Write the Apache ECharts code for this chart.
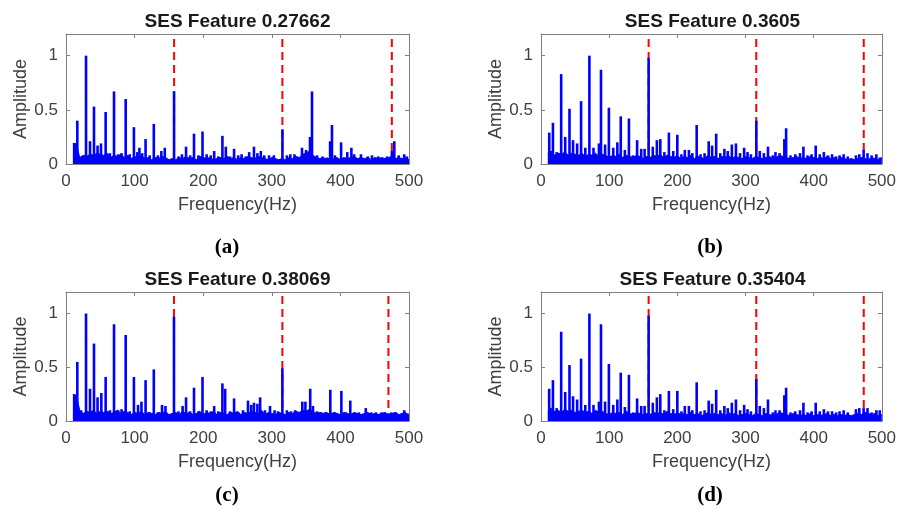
<!DOCTYPE html>
<html>
<head>
<meta charset="utf-8">
<script src="https://cdn.jsdelivr.net/npm/echarts@6/dist/echarts.min.js"></script>
<style>
  html, body { margin: 0; padding: 0; background: #fff; }
  #chart { width: 899px; height: 517px; }
</style>
</head>
<body>
<div id="chart"></div>
<script>
/* Four SES spectra (a)-(d) with fault-frequency harmonics marked in red. */
const TITLES = ["SES Feature 0.27662", "SES Feature 0.3605", "SES Feature 0.38069", "SES Feature 0.35404"];
const CAPTIONS = ["(a)", "(b)", "(c)", "(d)"];
const X_TICKS = [0, 100, 200, 300, 400, 500];

// fault harmonics (Hz) per panel
const faultA = [157.6, 315.4, 475];
const faultB = [157.9, 315.8, 473.5];
const faultC = [157.4, 315.4, 470];
const faultD = [157.9, 315.8, 473.5];

// noise floor, one value every 5 Hz starting at 10 Hz
const FLOOR_START = 10, FLOOR_STEP = 5;
const floorA = [
  0.19, 0.19, 0.06, 0.08, 0.07, 0.09, 0.08, 0.10, 0.09, 0.08,
  0.10, 0.06, 0.08, 0.07, 0.09, 0.06, 0.08, 0.05, 0.07, 0.06,
  0.08, 0.05, 0.06, 0.04, 0.06, 0.05, 0.07, 0.06, 0.04, 0.05,
  0.04, 0.06, 0.05, 0.07, 0.05, 0.06, 0.04, 0.07, 0.06, 0.05,
  0.06, 0.04, 0.05, 0.06, 0.05, 0.07, 0.05, 0.06, 0.04, 0.06,
  0.05, 0.07, 0.06, 0.05, 0.07, 0.06, 0.05, 0.04, 0.06, 0.05,
  0.04, 0.05, 0.04, 0.06, 0.05, 0.07, 0.06, 0.09, 0.10, 0.12,
  0.08, 0.06, 0.05, 0.06, 0.04, 0.06, 0.05, 0.06, 0.04, 0.06,
  0.05, 0.06, 0.07, 0.05, 0.06, 0.05, 0.06, 0.04, 0.06, 0.05,
  0.06, 0.05, 0.06, 0.07, 0.05, 0.06, 0.05, 0.06, 0.04
];
const floorB = [
  0.10, 0.12, 0.08, 0.10, 0.09, 0.11, 0.08, 0.10, 0.09, 0.08,
  0.10, 0.07, 0.09, 0.08, 0.10, 0.07, 0.09, 0.08, 0.06, 0.08,
  0.07, 0.09, 0.06, 0.08, 0.07, 0.06, 0.08, 0.07, 0.05, 0.07,
  0.06, 0.08, 0.07, 0.09, 0.06, 0.08, 0.07, 0.06, 0.08, 0.05,
  0.07, 0.06, 0.08, 0.05, 0.07, 0.06, 0.05, 0.08, 0.06, 0.07,
  0.05, 0.07, 0.06, 0.08, 0.05, 0.07, 0.06, 0.05, 0.07, 0.06,
  0.05, 0.07, 0.06, 0.05, 0.06, 0.07, 0.05, 0.06, 0.08, 0.07,
  0.06, 0.05, 0.06, 0.07, 0.05, 0.06, 0.05, 0.07, 0.06, 0.05,
  0.06, 0.05, 0.07, 0.05, 0.06, 0.04, 0.06, 0.05, 0.04, 0.05,
  0.04, 0.05, 0.06, 0.05, 0.04, 0.06, 0.05, 0.04, 0.06
];
const floorC = [
  0.25, 0.24, 0.10, 0.07, 0.09, 0.08, 0.10, 0.07, 0.09, 0.08,
  0.09, 0.07, 0.08, 0.10, 0.07, 0.09, 0.08, 0.06, 0.08, 0.07,
  0.09, 0.06, 0.08, 0.07, 0.06, 0.08, 0.07, 0.09, 0.06, 0.07,
  0.08, 0.06, 0.09, 0.07, 0.08, 0.06, 0.07, 0.09, 0.06, 0.08,
  0.07, 0.09, 0.06, 0.08, 0.07, 0.06, 0.08, 0.07, 0.09, 0.06,
  0.08, 0.07, 0.09, 0.08, 0.07, 0.10, 0.06, 0.08, 0.07, 0.06,
  0.08, 0.07, 0.06, 0.08, 0.07, 0.09, 0.08, 0.10, 0.09, 0.11,
  0.09, 0.07, 0.08, 0.07, 0.08, 0.06, 0.08, 0.07, 0.06, 0.08,
  0.07, 0.06, 0.08, 0.07, 0.06, 0.07, 0.08, 0.06, 0.07, 0.06,
  0.07, 0.08, 0.06, 0.07, 0.08, 0.06, 0.07, 0.08, 0.05
];
const floorD = [
  0.09, 0.12, 0.09, 0.10, 0.08, 0.11, 0.09, 0.10, 0.08, 0.09,
  0.10, 0.08, 0.09, 0.07, 0.10, 0.08, 0.09, 0.07, 0.06, 0.08,
  0.07, 0.08, 0.06, 0.09, 0.07, 0.06, 0.08, 0.07, 0.06, 0.07,
  0.06, 0.08, 0.07, 0.08, 0.06, 0.09, 0.07, 0.06, 0.08, 0.06,
  0.07, 0.06, 0.08, 0.06, 0.07, 0.05, 0.06, 0.08, 0.06, 0.07,
  0.06, 0.07, 0.05, 0.08, 0.06, 0.07, 0.05, 0.06, 0.07, 0.06,
  0.05, 0.07, 0.06, 0.05, 0.07, 0.06, 0.05, 0.06, 0.08, 0.07,
  0.06, 0.05, 0.07, 0.06, 0.05, 0.06, 0.05, 0.07, 0.05, 0.06,
  0.05, 0.06, 0.07, 0.05, 0.06, 0.05, 0.06, 0.05, 0.06, 0.05,
  0.06, 0.07, 0.06, 0.08, 0.07, 0.06, 0.07, 0.05, 0.06
];

// spectral lines [Hz, amplitude]
const peaksA = [
  [16.5, 0.40], [29.2, 1.0], [35, 0.21], [40.8, 0.53], [46, 0.17], [51, 0.19], [57.8, 0.48], [64, 0.10],
  [70, 0.67], [76, 0.09], [81, 0.10], [87, 0.60], [93, 0.09], [99, 0.34], [104, 0.11], [107, 0.15],
  [111, 0.10], [116, 0.23], [122, 0.08], [128, 0.37], [134, 0.08], [139, 0.12], [144, 0.15], [157.5, 0.67],
  [164, 0.07], [169, 0.09], [175, 0.16], [181, 0.08], [186.6, 0.28], [193, 0.08], [199, 0.30], [205, 0.09],
  [211, 0.08], [216, 0.12], [222, 0.07], [228, 0.26], [233, 0.16], [239, 0.07], [245, 0.14], [251, 0.08],
  [256, 0.09], [262, 0.07], [267, 0.11], [274, 0.16], [279, 0.10], [284, 0.12], [289, 0.08], [296, 0.08],
  [303, 0.08], [315.5, 0.32], [322, 0.08], [327, 0.09], [333, 0.09], [344, 0.15], [350, 0.13], [355.7, 0.25],
  [358.6, 0.67], [366, 0.08], [374, 0.07], [380, 0.06], [385, 0.21], [387.7, 0.36], [392, 0.08], [401, 0.20],
  [410, 0.11], [416, 0.15], [420, 0.09], [430, 0.09], [440, 0.07], [446, 0.08], [455, 0.07], [468, 0.07],
  [475, 0.12], [478.6, 0.21], [485, 0.08], [493, 0.09], [497, 0.07]
];
const peaksB = [
  [12.1, 0.29], [17.5, 0.38], [23, 0.11], [29.6, 0.83], [35.5, 0.25], [41.8, 0.51], [47, 0.22], [53, 0.19],
  [58.8, 0.58], [65, 0.15], [71, 1.0], [77, 0.15], [85, 0.19], [88, 0.87], [94, 0.18], [99.6, 0.52],
  [106, 0.15], [112, 0.20], [117, 0.44], [123, 0.13], [129, 0.42], [135, 0.08], [141, 0.22], [147, 0.14],
  [152, 0.14], [157.9, 0.98], [164, 0.16], [170, 0.22], [175, 0.23], [181, 0.11], [187.6, 0.29], [194, 0.12],
  [200, 0.27], [206, 0.09], [211, 0.13], [217, 0.13], [222, 0.10], [228.4, 0.36], [234, 0.09], [240, 0.10],
  [246, 0.21], [251, 0.17], [257, 0.28], [263, 0.10], [269, 0.14], [274, 0.12], [280, 0.18], [286, 0.19],
  [292, 0.10], [298, 0.15], [303, 0.11], [308, 0.09], [315.9, 0.40], [321, 0.12], [327, 0.10], [333, 0.16],
  [340, 0.08], [344, 0.11], [350, 0.10], [357, 0.23], [359.6, 0.33], [366, 0.08], [373, 0.09], [380, 0.10],
  [385, 0.16], [391, 0.08], [397, 0.09], [403, 0.17], [409, 0.09], [415, 0.11], [421, 0.08], [427, 0.09],
  [433, 0.07], [438, 0.08], [444, 0.09], [450, 0.07], [462, 0.08], [467, 0.09], [473.3, 0.13], [479, 0.10],
  [485, 0.08], [492, 0.09], [497, 0.06]
];
const peaksC = [
  [16.5, 0.55], [22, 0.10], [29.2, 1.0], [35, 0.30], [40.8, 0.72], [46, 0.22], [51.5, 0.26], [57.8, 0.41],
  [64, 0.10], [70, 0.90], [76, 0.10], [81, 0.11], [87, 0.80], [93, 0.09], [99, 0.41], [105, 0.15],
  [110, 0.18], [116, 0.38], [122, 0.08], [128, 0.48], [134, 0.08], [140, 0.15], [145, 0.14], [157.4, 0.97],
  [164, 0.09], [170, 0.14], [175, 0.22], [181, 0.09], [186.6, 0.31], [193, 0.09], [199, 0.41], [205, 0.10],
  [211, 0.09], [216, 0.14], [222, 0.09], [228, 0.35], [232, 0.30], [239, 0.09], [245, 0.21], [251, 0.08],
  [258, 0.10], [265.3, 0.19], [270, 0.15], [274, 0.17], [279, 0.16], [283, 0.22], [290, 0.10], [297.4, 0.14],
  [304, 0.10], [309, 0.09], [315.4, 0.49], [322, 0.10], [328, 0.09], [334, 0.10], [344.5, 0.18], [349, 0.18],
  [356, 0.30], [360, 0.14], [366, 0.09], [372, 0.08], [378, 0.08], [385.3, 0.29], [392, 0.08], [401.4, 0.28],
  [408, 0.08], [414.4, 0.19], [420, 0.07], [427, 0.08], [437, 0.12], [445, 0.08], [452, 0.08], [460, 0.08],
  [466, 0.07], [474, 0.08], [481, 0.08], [490, 0.07], [493, 0.10], [498, 0.07]
];
const peaksD = [
  [12, 0.30], [17.5, 0.38], [23, 0.12], [29.6, 0.83], [35.5, 0.27], [41.8, 0.52], [47, 0.23], [53, 0.20],
  [58.8, 0.58], [65, 0.15], [71, 1.0], [77, 0.15], [85, 0.18], [88, 0.90], [94, 0.18], [99.6, 0.53],
  [106, 0.15], [112, 0.20], [117, 0.45], [123, 0.13], [129, 0.43], [135, 0.08], [141, 0.21], [147, 0.14],
  [152, 0.14], [157.9, 0.98], [164, 0.17], [170, 0.22], [175, 0.25], [181, 0.10], [187.6, 0.28], [194, 0.11],
  [200, 0.28], [206, 0.09], [211, 0.14], [217, 0.14], [222, 0.10], [228.4, 0.36], [234, 0.09], [240, 0.10],
  [246, 0.19], [251, 0.16], [257, 0.29], [263, 0.10], [269, 0.14], [274, 0.12], [280, 0.17], [286, 0.20],
  [292, 0.10], [298, 0.15], [303, 0.11], [308, 0.09], [315.9, 0.39], [321, 0.14], [327, 0.12], [333, 0.20],
  [340, 0.08], [344, 0.10], [350, 0.10], [357, 0.24], [359.6, 0.31], [366, 0.08], [373, 0.09], [380, 0.10],
  [385, 0.17], [391, 0.08], [397, 0.09], [403, 0.17], [409, 0.09], [415, 0.11], [421, 0.09], [427, 0.09],
  [433, 0.08], [438, 0.09], [444, 0.10], [450, 0.08], [462, 0.11], [467, 0.12], [473.3, 0.12], [479, 0.12],
  [485, 0.08], [492, 0.10], [497, 0.10]
];

const PANELS = [
  { floor: floorA, peaks: peaksA, fault: faultA },
  { floor: floorB, peaks: peaksB, fault: faultB },
  { floor: floorC, peaks: peaksC, fault: faultC },
  { floor: floorD, peaks: peaksD, fault: faultD },
];

// layout: plot boxes in px
const BOX = [
  { left: 66, top: 34, w: 343, h: 130 },
  { left: 541, top: 34, w: 343, h: 130 },
  { left: 66, top: 292, w: 343, h: 129 },
  { left: 541, top: 292, w: 343, h: 129 },
];
const CAP_POS = [[227, 248], [710, 248], [227, 496], [710, 496]];
const Y_MAX = 1.2;

const SANS = "'Liberation Sans', Arial, Helvetica, sans-serif";
const FRAME = "#808080", TXT = "#404040", BLUE = "#0000ff";

const grid = [], xAxis = [], yAxis = [], series = [], title = [];
const frameAxis = { show: true, lineStyle: { color: FRAME, width: 1 } };
const tick = { show: true, inside: true, length: 4, lineStyle: { color: FRAME } };

PANELS.forEach((p, i) => {
  const b = BOX[i];
  grid.push({ left: b.left, top: b.top, width: b.w, height: b.h, containLabel: false });
  const xBase = { type: "value", gridIndex: i, min: 0, max: 500, interval: 100, splitLine: { show: false } };
  const yBase = { type: "value", gridIndex: i, min: 0, max: Y_MAX, interval: 0.5, splitLine: { show: false } };
  xAxis.push(Object.assign({}, xBase, {
    position: "bottom", axisLine: Object.assign({ onZero: false }, frameAxis), axisTick: tick,
    axisLabel: { color: TXT, fontSize: 17, fontFamily: SANS, margin: 9, customValues: X_TICKS },
    name: "Frequency(Hz)", nameLocation: "middle", nameGap: 32,
    nameTextStyle: { color: TXT, fontSize: 18, fontFamily: SANS },
  }));
  xAxis.push(Object.assign({}, xBase, {
    position: "top", axisLine: Object.assign({ onZero: false }, frameAxis), axisTick: tick, axisLabel: { show: false },
  }));
  yAxis.push(Object.assign({}, yBase, {
    position: "left", axisLine: Object.assign({ onZero: false }, frameAxis), axisTick: tick,
    axisLabel: { color: TXT, fontSize: 17, fontFamily: SANS, margin: 8, showMaxLabel: false },
    name: "Amplitude", nameLocation: "middle", nameGap: 33,
    nameTextStyle: { color: TXT, fontSize: 18, fontFamily: SANS },
  }));
  yAxis.push(Object.assign({}, yBase, {
    position: "right", axisLine: Object.assign({ onZero: false }, frameAxis), axisTick: tick, axisLabel: { show: false },
  }));

  // red dashed harmonic markers, drawn beneath the spectrum
  p.fault.forEach((f) => {
    series.push({
      type: "line", xAxisIndex: 2 * i, yAxisIndex: 2 * i, z: 1, symbol: "none", silent: true,
      data: [[f, 0], [f, Y_MAX]],
      lineStyle: { color: "#ff0000", type: [8, 5], width: 2 },
    });
  });
  // noise floor as filled line
  series.push({
    type: "line", xAxisIndex: 2 * i, yAxisIndex: 2 * i, z: 10, symbol: "none", silent: true,
    data: p.floor.map((v, k) => [FLOOR_START + k * FLOOR_STEP, v]),
    lineStyle: { color: BLUE, width: 1 }, areaStyle: { color: BLUE, opacity: 1 },
  });
  // spectral lines
  series.push({
    type: "bar", xAxisIndex: 2 * i, yAxisIndex: 2 * i, z: 11, barWidth: 2.6, silent: true,
    itemStyle: { color: BLUE }, data: p.peaks,
  });

  const cx = b.left + b.w / 2;
  title.push({
    text: TITLES[i], left: cx, top: b.top - 22, textAlign: "center", padding: 0,
    textStyle: { fontSize: 19, fontWeight: "bold", color: "#1a1a1a", fontFamily: SANS },
  });
  title.push({
    text: CAPTIONS[i], left: CAP_POS[i][0], top: CAP_POS[i][1] - 11, textAlign: "center", padding: 0,
    textStyle: { fontSize: 21, fontWeight: "bold", color: "#000", fontFamily: "'Liberation Serif', 'Times New Roman', serif" },
  });
});

const chart = echarts.init(document.getElementById("chart"), null, { renderer: "canvas" });
chart.setOption({ animation: false, backgroundColor: "#fff", title, grid, xAxis, yAxis, series });
</script>
</body>
</html>
